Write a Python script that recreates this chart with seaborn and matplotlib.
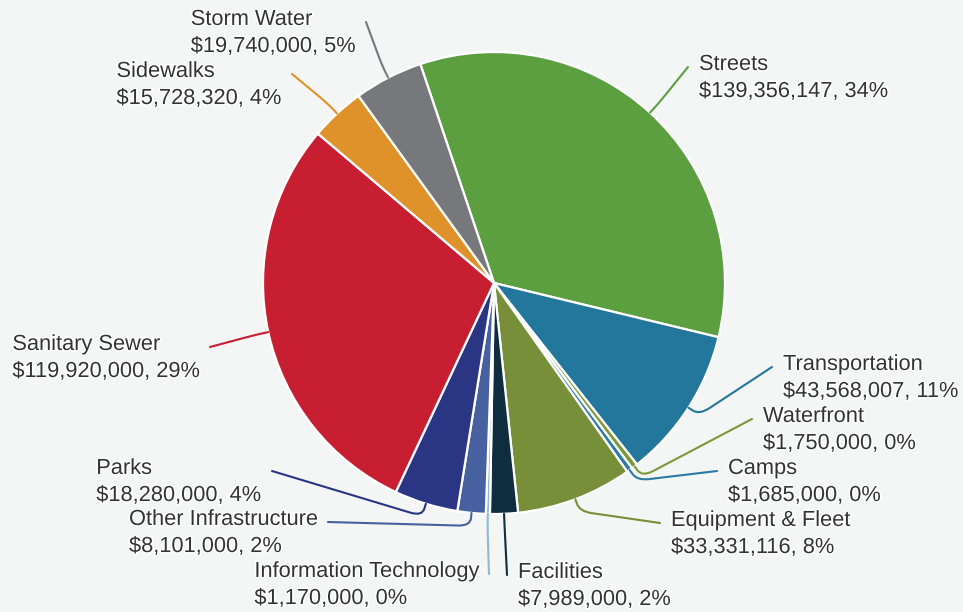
import numpy as np
import matplotlib
matplotlib.use("Agg")
import matplotlib.pyplot as plt
import matplotlib.patheffects as pe
from matplotlib.path import Path
from matplotlib.patches import PathPatch
import seaborn as sns

# data
categories = ["Streets", "Transportation", "Waterfront", "Camps", "Equipment & Fleet",
              "Facilities", "Information Technology", "Other Infrastructure", "Parks",
              "Sanitary Sewer", "Sidewalks", "Storm Water"]
amounts = [139356147, 43568007, 1750000, 1685000, 33331116,
           7989000, 1170000, 8101000, 18280000,
           119920000, 15728320, 19740000]

# slice colours
slice_colors = ["#5c9f41", "#23769c", "#789a3a", "#2a7aa3", "#768f38",
                "#0e2d3f", "#8cbad3", "#4761a0", "#2a3584",
                "#c81e32", "#e0922a", "#77787c"]

# where each connector ends (pixels from top-left) and which side the label sits on
anchor_x = [688, 772, 752, 717, 660, 507, 489, 328, 272, 210, 292, 366]
anchor_y = [67, 367, 419, 471, 523, 575, 574, 522, 471, 347, 74, 22]
label_side = ["R", "R", "R", "R", "R", "R", "L", "L", "L", "L", "L", "L"]

W, H = 963, 612
bg = "#f4f5f5"

sns.set_theme(style="white")
plt.rcParams["font.family"] = ["Liberation Sans", "DejaVu Sans"]

fig = plt.figure(figsize=(W / 100, H / 100), dpi=100, facecolor=bg)
ax = fig.add_axes([0, 0, 1, 1])
ax.set_facecolor(bg)

cx, cy, r = 494, H - 283, 231
palette = sns.color_palette(slice_colors)
wedges, _ = ax.pie(amounts, colors=palette, startangle=108.6, counterclock=False,
                   radius=r, center=(cx, cy),
                   wedgeprops=dict(edgecolor="white", linewidth=1.6))

total = sum(amounts)
outline = [pe.withStroke(linewidth=2.2, foreground="white")]

for w, name, val, col, axp, ayp, side in zip(wedges, categories, amounts, slice_colors,
                                             anchor_x, anchor_y, label_side):
    mid = np.deg2rad((w.theta1 + w.theta2) / 2)
    d = np.array([np.cos(mid), np.sin(mid)])
    p0 = np.array([cx, cy]) + r * d
    p1 = np.array([cx, cy]) + (r + 13) * d
    p2 = np.array([axp, H - ayp])
    # rounded corner at p1
    pa = p0 + 0.4 * (p1 - p0)
    v = p2 - p1
    pb = p1 + v / np.linalg.norm(v) * min(12, 0.4 * np.linalg.norm(v))
    path = Path([p0, pa, p1, pb, p2],
                [Path.MOVETO, Path.LINETO, Path.CURVE3, Path.CURVE3, Path.LINETO])
    ax.add_patch(PathPatch(path, facecolor="none", edgecolor=col, linewidth=1.5,
                           capstyle="round", joinstyle="round"))

    pct = round(val / total * 100)
    txt = f"{name}\n${val:,}, {pct}%"
    if side == "R":
        ax.text(axp + 11, H - ayp - 11, txt, ha="left", va="center", multialignment="left",
                fontsize=15.7, color="#333333", linespacing=1.38, path_effects=outline)
    else:
        ax.text(axp - 11, H - ayp - 11, txt, ha="right", va="center", multialignment="left",
                fontsize=15.7, color="#333333", linespacing=1.38, path_effects=outline)

ax.set_xlim(0, W)
ax.set_ylim(0, H)
ax.set_aspect("equal")
ax.axis("off")

fig.savefig("out.png", dpi=100, facecolor=bg)
